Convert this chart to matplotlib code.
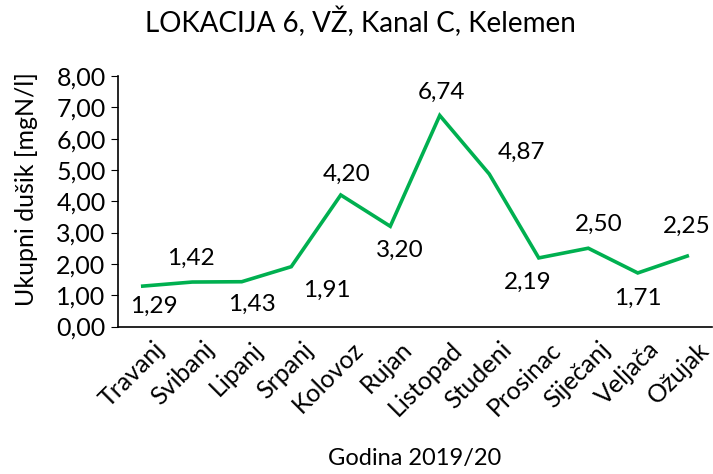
import matplotlib.pyplot as plt
import matplotlib.transforms as mtransforms

plt.rcParams['font.family'] = ['Lato', 'DejaVu Sans']

months = ['Travanj', 'Svibanj', 'Lipanj', 'Srpanj', 'Kolovoz', 'Rujan',
          'Listopad', 'Studeni', 'Prosinac', 'Siječanj', 'Veljača', 'Ožujak']
nitrogen = [1.29, 1.42, 1.43, 1.91, 4.20, 3.20, 6.74, 4.87, 2.19, 2.50, 1.71, 2.25]
# where Excel put each data label, pixels from the point (right, down)
label_shift = [(11, 20), (-1, -24), (10, 23), (36, 24), (6, -21), (10, 24),
               (2, -23), (32, -22), (-11, 24), (10, -24), (0, 25), (0, -30)]

fig = plt.figure(figsize=(7.13, 4.74), dpi=100)
ax = fig.add_axes([118 / 713, 1 - 326.5 / 474, 594 / 713, 250.5 / 474])

x = list(range(len(months)))
ax.plot(x, nitrogen, color='#00B050', linewidth=2.6, solid_joinstyle='miter')

for i, v in enumerate(nitrogen):
    dx, dy = label_shift[i]
    ax.annotate(f'{v:.2f}'.replace('.', ','), (i, v), xytext=(dx, -dy),
                textcoords='offset pixels', ha='center', va='center', fontsize=17.5)

ax.set_xlim(-0.5, len(months) - 0.5)
ax.set_ylim(0, 8)
ax.set_yticks(range(9))
ax.set_yticklabels([f'{t:.2f}'.replace('.', ',') for t in range(9)], fontsize=18)
ax.set_xticks(x)
ax.set_xticklabels(months, rotation=45, ha='right', rotation_mode='anchor', fontsize=18)
ax.tick_params(axis='x', length=0, pad=8)
ax.tick_params(axis='y', length=5, direction='out', pad=4)

# Excel hangs the rotated labels a little to the right of each category
shift = mtransforms.ScaledTranslation(10 / 100, 0, fig.dpi_scale_trans)
for lab in ax.get_xticklabels():
    lab.set_transform(lab.get_transform() + shift)

for s in ['top', 'right']:
    ax.spines[s].set_visible(False)
for s in ['left', 'bottom']:
    ax.spines[s].set_linewidth(1.2)

fig.text(360 / 713, 1 - 22 / 474, 'LOKACIJA 6, VŽ, Kanal C, Kelemen',
         ha='center', va='center', fontsize=20)
fig.text(415 / 713, 1 - 458 / 474, 'Godina 2019/20', ha='center', va='center', fontsize=17)
fig.text(27 / 713, 1 - 189 / 474, 'Ukupni dušik [mgN/l]', ha='center', va='center',
         rotation=90, fontsize=18)

fig.savefig('out.png', dpi=100)
